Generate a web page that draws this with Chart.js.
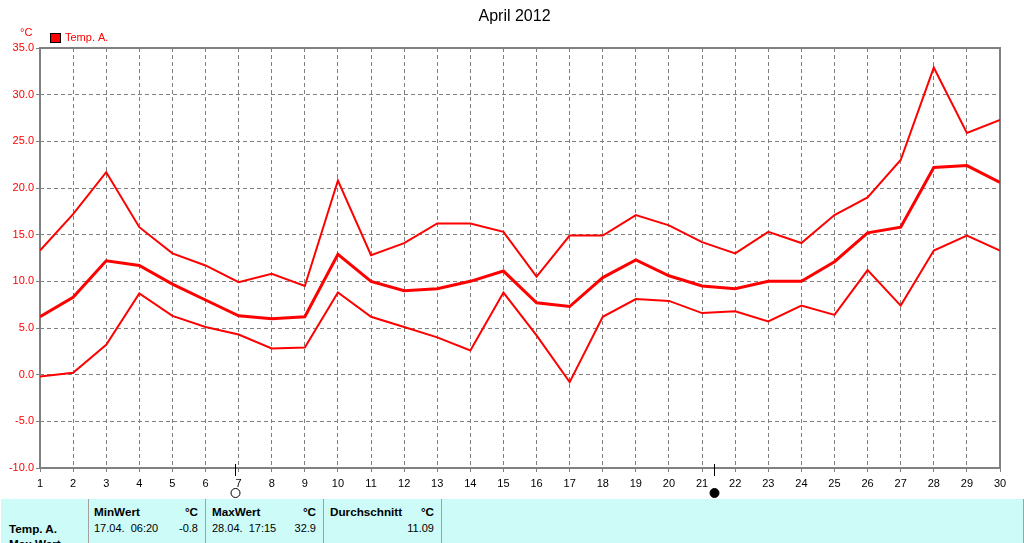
<!DOCTYPE html>
<html lang="en">
<head>
    <meta charset="UTF-8">
    <title>April 2012</title>
    <script src="https://cdn.jsdelivr.net/npm/chart.js@4"></script>
    <style>
        body { margin: 0; background: #fff; overflow: hidden; }
        #wrap { position: relative; width: 1024px; height: 543px; overflow: hidden; font: 11px "Liberation Sans", sans-serif; }
        canvas { position: absolute; left: 0; top: 0; }
        #panel { position: absolute; left: 1px; top: 499px; width: 1023px; height: 44px; background: #ccfbf8; overflow: hidden; }
        #panel i { position: absolute; top: 0; width: 1px; height: 44px; background: #a0a0a0; }
        #panel span { position: absolute; white-space: pre; color: #000; line-height: 14px; }
        #panel .b { font-weight: bold; font-size: 11.7px; }
    </style>
</head>
<body>
    <div id="wrap">
        <canvas id="canvas" width="1024" height="543"></canvas>
        <div id="panel"></div>
    </div>
    <script>
        const days = [1, 2, 3, 4, 5, 6, 7, 8, 9, 10, 11, 12, 13, 14, 15, 16, 17, 18, 19, 20, 21, 22, 23, 24, 25, 26, 27, 28, 29, 30]
        const tempHigh = [13.3, 17.2, 21.7, 15.8, 13.0, 11.7, 9.9, 10.8, 9.5, 20.8, 12.8, 14.1, 16.2, 16.2, 15.3, 10.5, 14.9, 14.9, 17.1, 16.0, 14.2, 13.0, 15.3, 14.1, 17.1, 19.0, 23.0, 32.9, 25.9, 27.3]
        const tempMean = [6.2, 8.3, 12.2, 11.7, 9.7, 8.0, 6.3, 6.0, 6.2, 12.9, 10.0, 9.0, 9.2, 10.0, 11.1, 7.7, 7.3, 10.4, 12.3, 10.6, 9.5, 9.2, 10.0, 10.0, 12.1, 15.2, 15.8, 22.2, 22.4, 20.6]
        const tempLow = [-0.2, 0.2, 3.2, 8.7, 6.3, 5.1, 4.3, 2.8, 2.9, 8.8, 6.2, 5.1, 4.0, 2.6, 8.8, 4.2, -0.8, 6.2, 8.1, 7.9, 6.6, 6.8, 5.7, 7.4, 6.4, 11.2, 7.4, 13.3, 14.9, 13.3]
        const moonDays = [6.89, 21.37]
        const moonFilled = [false, true]

        const FONT = '"Liberation Sans", sans-serif'
        const toPoints = (vals) => vals.map((v, i) => ({ x: days[i], y: v }))

        // frame, unit, legend and moon marks, the library has no option for these
        const extras = {
            id: 'extras',
            beforeDatasetsDraw: (chart) => {
                const { ctx, chartArea: a } = chart
                ctx.save()
                ctx.strokeStyle = '#808080'
                ctx.lineWidth = 2
                ctx.strokeRect(a.left, a.top, a.right - a.left, a.bottom - a.top)
                ctx.restore()
            },
            afterDraw: (chart) => {
                const { ctx, scales } = chart
                ctx.save()
                ctx.font = '11px ' + FONT
                ctx.fillStyle = '#ff0000'
                ctx.textBaseline = 'middle'
                ctx.fillText('°C', 20, 33)
                ctx.fillText('Temp. A.', 65, 38)
                ctx.fillRect(50.5, 33.5, 10, 9)
                ctx.strokeStyle = '#000'
                ctx.lineWidth = 1
                ctx.strokeRect(50.5, 33.5, 10, 9)
                moonDays.forEach((d, i) => {
                    const x = Math.round(scales.x.getPixelForValue(d)) + 0.5
                    ctx.beginPath()
                    ctx.moveTo(x, 464)
                    ctx.lineTo(x, 476)
                    ctx.stroke()
                    ctx.beginPath()
                    ctx.arc(x, 493, 4.5, 0, Math.PI * 2)
                    ctx.fillStyle = '#000'
                    if (moonFilled[i]) ctx.fill()
                    ctx.stroke()
                })
                ctx.restore()
            }
        }

        const line = (label, vals, width) => ({
            label: label,
            data: toPoints(vals),
            borderColor: '#ff0000',
            borderWidth: width,
            pointRadius: 0,
            tension: 0,
            fill: false
        })

        new Chart(document.getElementById('canvas').getContext('2d'), {
            type: 'line',
            data: {
                datasets: [
                    line('Temp. A. max', tempHigh, 2),
                    line('Temp. A.', tempMean, 3),
                    line('Temp. A. min', tempLow, 2)
                ]
            },
            plugins: [extras],
            options: {
                responsive: false,
                animation: false,
                // 5px on the left puts the title centre on 514
                layout: { padding: { left: 5, right: 0, top: 0, bottom: 0 } },
                plugins: {
                    legend: { display: false },
                    tooltip: { enabled: false },
                    title: {
                        display: true,
                        text: 'April 2012',
                        color: '#000',
                        font: { family: FONT, size: 16, weight: 'normal', lineHeight: 1.2 },
                        padding: { top: 7, bottom: 21.8 }
                    }
                },
                scales: {
                    x: {
                        type: 'linear',
                        min: 1,
                        max: 30,
                        afterFit: (s) => { s.height = 75 },
                        ticks: {
                            stepSize: 1,
                            autoSkip: false,
                            maxRotation: 0,
                            color: '#000',
                            padding: 5,
                            font: { family: FONT, size: 11 }
                        },
                        grid: { color: '#808080', lineWidth: 1, tickLength: 4, tickColor: '#808080' },
                        border: { display: false, dash: [4, 3] }
                    },
                    y: {
                        min: -10,
                        max: 35,
                        afterFit: (s) => { s.width = 35 },
                        ticks: {
                            stepSize: 5,
                            color: '#ff0000',
                            padding: 2,
                            font: { family: FONT, size: 11 },
                            callback: (v) => v.toFixed(1)
                        },
                        grid: { color: '#808080', lineWidth: 1, tickLength: 4, tickColor: '#808080' },
                        border: { display: false, dash: [4, 3] }
                    },
                    // empty axis, only holds the right margin of the plot
                    margin: {
                        position: 'right',
                        afterFit: (s) => { s.width = 24 },
                        ticks: { display: false },
                        grid: { display: false },
                        border: { display: false }
                    }
                }
            }
        })

        // stats strip under the chart
        const dividers = [87, 204, 322, 440, 1022]
        const panelLeft = [
            ['Temp. A.', 8, 23, true],
            ['Max Wert', 8, 38, true],
            ['MinWert', 93, 6, true],
            ['MaxWert', 211, 6, true],
            ['Durchschnitt', 329, 6, true],
            ['17.04.  06:20', 93, 22, false],
            ['28.04.  17:15', 211, 22, false]
        ]
        const panelRight = [
            ['°C', 197, 6, true],
            ['°C', 315, 6, true],
            ['°C', 433, 6, true],
            ['-0.8', 197, 22, false],
            ['32.9', 315, 22, false],
            ['11.09', 433, 22, false]
        ]
        const panel = document.getElementById('panel')
        dividers.forEach(x => {
            const d = document.createElement('i')
            d.style.left = x + 'px'
            panel.appendChild(d)
        })
        const addText = (t, x, y, bold, right) => {
            const s = document.createElement('span')
            s.textContent = t
            s.style.top = y + 'px'
            if (right) s.style.right = (1023 - x) + 'px'
            else s.style.left = x + 'px'
            if (bold) s.className = 'b'
            panel.appendChild(s)
        }
        panelLeft.forEach(p => addText(p[0], p[1], p[2], p[3], false))
        panelRight.forEach(p => addText(p[0], p[1], p[2], p[3], true))
    </script>
</body>
</html>
